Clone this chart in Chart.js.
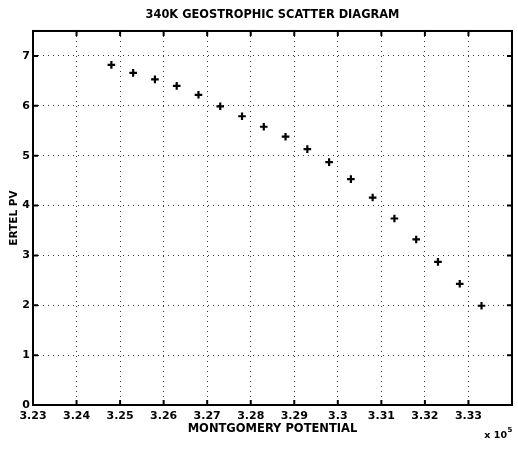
<!DOCTYPE html>
<html>
<head>
<meta charset="utf-8">
<title>340K Geostrophic Scatter Diagram</title>
<script src="https://cdn.jsdelivr.net/npm/chart.js@4/dist/chart.umd.min.js"></script>
<style>
  html, body { margin: 0; padding: 0; background: #ffffff; }
  #wrap { width: 518px; height: 449px; }
</style>
</head>
<body>
<div id="wrap"><canvas id="scatter" width="518" height="449"></canvas></div>
<script>
// Montgomery potential (m^2 s^-2) at the 340 K isentropic surface
const montgomery = [324800, 325300, 325800, 326300, 326800, 327300, 327800, 328300, 328800,
                    329300, 329800, 330300, 330800, 331300, 331800, 332300, 332800, 333300];
// Ertel potential vorticity (PVU) for each potential value
const ertelPV = [6.82, 6.66, 6.53, 6.40, 6.22, 5.99, 5.79, 5.58, 5.38,
                 5.13, 4.87, 4.53, 4.16, 3.74, 3.32, 2.87, 2.43, 1.99];

const xRange = [323000, 334000];
const xStep = 1000;
const yRange = [0, 7.5];
const yStep = 1;
const exponentLabel = ['x 10', '5'];

const FONT = '"DejaVu Sans", Verdana, sans-serif';

const points = montgomery.map((m, i) => ({ x: m, y: ertelPV[i] }));

// Solid box around the plot with short inward tick marks on all four sides,
// plus the x-axis exponent note.
const framePlugin = {
  id: 'frame',
  afterLayout(chart) {
    // centre the title over the plotting area
    const tb = chart.titleBlock;
    if (tb) { tb.left = chart.chartArea.left; tb.right = chart.chartArea.right; }
  },
  afterDraw(chart) {
    const { ctx, chartArea: a, scales } = chart;
    ctx.save();
    ctx.strokeStyle = '#000';
    ctx.lineWidth = 2;
    ctx.setLineDash([]);
    ctx.strokeRect(a.left, a.top, a.right - a.left, a.bottom - a.top);

    const len = 5;
    ctx.beginPath();
    scales.x.ticks.forEach(t => {
      const px = scales.x.getPixelForValue(t.value);
      ctx.moveTo(px, a.bottom); ctx.lineTo(px, a.bottom - len);
      ctx.moveTo(px, a.top); ctx.lineTo(px, a.top + len);
    });
    scales.y.ticks.forEach(t => {
      const py = scales.y.getPixelForValue(t.value);
      ctx.moveTo(a.left, py); ctx.lineTo(a.left + len, py);
      ctx.moveTo(a.right, py); ctx.lineTo(a.right - len, py);
    });
    ctx.stroke();

    ctx.fillStyle = '#000';
    ctx.textBaseline = 'alphabetic';
    ctx.textAlign = 'left';
    ctx.font = 'bold 9.5px ' + FONT;
    const baseW = ctx.measureText(exponentLabel[0]).width;
    const x0 = a.right - baseW - 5;
    ctx.fillText(exponentLabel[0], x0, 438);
    ctx.font = 'bold 7px ' + FONT;
    ctx.fillText(exponentLabel[1], x0 + baseW + 0.5, 432);
    ctx.restore();
  }
};

new Chart(document.getElementById('scatter'), {
  type: 'scatter',
  data: {
    datasets: [{
      label: 'Ertel PV',
      data: points,
      pointStyle: 'cross',
      pointRadius: 3.8,
      pointHoverRadius: 3.8,
      borderColor: '#000',
      backgroundColor: '#000',
      borderWidth: 2.2
    }]
  },
  options: {
    responsive: false,
    animation: false,
    events: [],
    layout: { padding: { left: 0, right: 5, top: 0, bottom: 0 } },
    plugins: {
      legend: { display: false },
      tooltip: { enabled: false },
      title: {
        display: true,
        text: '340K GEOSTROPHIC SCATTER DIAGRAM',
        color: '#000',
        font: { family: FONT, size: 11.4, weight: 'bold', lineHeight: 1.2 },
        padding: { top: 8.5, bottom: 8.8 }
      }
    },
    scales: {
      x: {
        type: 'linear',
        min: xRange[0],
        max: xRange[1],
        afterFit(s) { s.height = 44; },
        border: { display: false, dash: [1, 4] },
        grid: { color: '#333', lineWidth: 1, drawTicks: false },
        ticks: {
          stepSize: xStep,
          autoSkip: false,
          maxRotation: 0,
          padding: 5,
          color: '#000',
          font: { family: FONT, size: 11, weight: 'bold' },
          callback: v => (v >= xRange[1] ? '' : String(parseFloat((v / 1e5).toFixed(2))))
        },
        title: {
          display: true,
          text: 'MONTGOMERY POTENTIAL',
          color: '#000',
          font: { family: FONT, size: 11.5, weight: 'bold', lineHeight: 1.2 },
          padding: { top: 0, bottom: 13 }
        }
      },
      y: {
        type: 'linear',
        min: yRange[0],
        max: yRange[1],
        afterFit(s) { s.width = 33; },
        border: { display: false, dash: [1, 4] },
        grid: { color: '#333', lineWidth: 1, drawTicks: false },
        ticks: {
          stepSize: yStep,
          includeBounds: false,
          padding: 3,
          color: '#000',
          font: { family: FONT, size: 11, weight: 'bold' }
        },
        title: {
          display: true,
          text: 'ERTEL PV',
          color: '#000',
          font: { family: FONT, size: 10.5, weight: 'bold', lineHeight: 1.2 },
          padding: { top: 7.7, bottom: 0 }
        }
      }
    }
  },
  plugins: [framePlugin]
});
</script>
</body>
</html>
